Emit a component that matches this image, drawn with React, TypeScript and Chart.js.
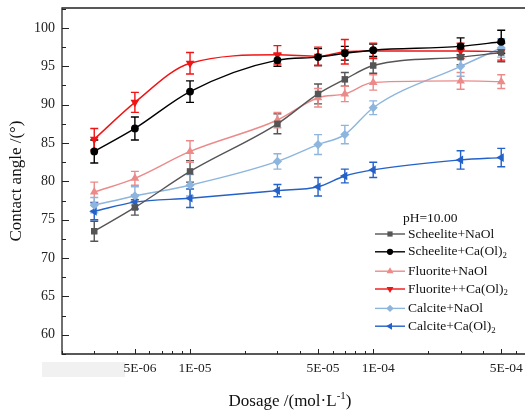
import React, { useEffect, useRef } from 'react';
import { Chart, registerables } from 'chart.js';
import { drawPoint } from 'chart.js/helpers';

Chart.register(...registerables);

// ---- Data ----
const dosage = [3e-6, 5e-6, 1e-5, 3e-5, 5e-5, 7e-5, 1e-4, 3e-4, 5e-4];

const scheeliteNaOl = [73.5, 76.6, 81.3, 87.5, 91.4, 93.3, 95.1, 96.2, 96.8];
const scheeliteNaOlErr = [1.3, 1.0, 1.4, 1.3, 1.3, 0.9, 1.0, 1.0, 1.2];

const scheeliteCa = [83.9, 86.9, 91.7, 95.8, 96.2, 96.7, 97.1, 97.6, 98.2];
const scheeliteCaErr = [1.5, 1.5, 1.4, 0.8, 1.1, 0.9, 0.8, 1.1, 1.5];

const fluoriteNaOl = [78.6, 80.4, 83.9, 88.0, 90.9, 91.4, 92.9, 93.1, 93.0];
const fluoriteNaOlErr = [1.3, 0.9, 1.4, 1.0, 1.2, 1.0, 1.0, 1.1, 0.9];

const fluoriteCa = [85.5, 90.3, 95.4, 96.5, 96.3, 96.9, 97.0, 97.0, 96.9];
const fluoriteCaErr = [1.4, 1.3, 1.4, 1.2, 1.2, 1.6, 1.0, 1.0, 1.1];

const calciteNaOl = [76.9, 78.1, 79.5, 82.6, 84.8, 86.1, 89.6, 95.0, 97.4];
const calciteNaOlErr = [1.0, 1.2, 1.4, 1.0, 1.3, 1.2, 0.9, 1.3, 1.2];

const calciteCa = [76.1, 77.3, 77.8, 78.8, 79.3, 80.7, 81.5, 82.8, 83.1];
const calciteCaErr = [1.1, 0.9, 1.2, 0.8, 1.2, 0.9, 1.0, 1.2, 1.2];

const seriesLabels = [
  'Scheelite+NaOl',
  'Scheelite+Ca(Ol)₂',
  'Fluorite+NaOl',
  'Fluorite++Ca(Ol)₂',
  'Calcite+NaOl',
  'Calcite+Ca(Ol)₂',
];

const xTickValues = [5e-6, 1e-5, 5e-5, 1e-4, 5e-4];
const xTickLabels = ['5E-06', '1E-05', '5E-05', '1E-04', '5E-04'];
const yTickValues = [60, 65, 70, 75, 80, 85, 90, 95, 100];

const legendTitle = 'pH=10.00';
const yTitle = 'Contact angle /(°)';
const xTitleMain = 'Dosage /(mol·L';
const xTitleSup = '-1';
const xTitleEnd = ')';

// ---- Styles ----
const FONT = "'Liberation Serif', 'Times New Roman', serif";
const colors = ['#555555', '#000000', '#ec8a8a', '#f01414', '#8db5dd', '#2461c9'];
const pointStyles = ['rect', 'circle', 'triangle', 'triangle', 'rectRot', 'triangle'];
const rotations = [0, 0, 0, 180, 0, -90];
const radii = [4.6, 3.9, 5, 5, 4.6, 5];

const seriesValues = [scheeliteNaOl, scheeliteCa, fluoriteNaOl, fluoriteCa, calciteNaOl, calciteCa];
const seriesErrors = [scheeliteNaOlErr, scheeliteCaErr, fluoriteNaOlErr, fluoriteCaErr, calciteNaOlErr, calciteCaErr];

function drawRich(ctx: CanvasRenderingContext2D, text: string, x: number, y: number, size: number) {
  const parts = text.split('₂');
  let cx = x;
  parts.forEach((p, i) => {
    ctx.font = `${size}px ${FONT}`;
    ctx.fillText(p, cx, y);
    cx += ctx.measureText(p).width;
    if (i < parts.length - 1) {
      ctx.font = `${size * 0.65}px ${FONT}`;
      ctx.fillText('2', cx, y + 4);
      cx += ctx.measureText('2').width;
    }
  });
}

const maskPlugin = {
  id: 'mask',
  beforeDraw(chart: any) {
    const { ctx } = chart;
    ctx.save();
    ctx.fillStyle = '#f1f1f1';
    ctx.fillRect(42, 362, 83, 15);
    ctx.restore();
  },
};

const errorBarPlugin = {
  id: 'errorBars',
  beforeDatasetsDraw(chart: any) {
    const { ctx, scales } = chart;
    const x = scales.x;
    const y = scales.y;
    ctx.save();
    seriesErrors.forEach((errs, si) => {
      ctx.strokeStyle = colors[si];
      ctx.lineWidth = 1.4;
      errs.forEach((e, i) => {
        const px = x.getPixelForValue(dosage[i]);
        const v = seriesValues[si][i];
        const top = y.getPixelForValue(v + e);
        const bot = y.getPixelForValue(v - e);
        ctx.beginPath();
        ctx.moveTo(px, top);
        ctx.lineTo(px, bot);
        ctx.moveTo(px - 4, top);
        ctx.lineTo(px + 4, top);
        ctx.moveTo(px - 4, bot);
        ctx.lineTo(px + 4, bot);
        ctx.stroke();
      });
    });
    ctx.restore();
  },
};

const framePlugin = {
  id: 'frame',
  afterDraw(chart: any) {
    const { ctx, chartArea: a, scales } = chart;
    const x = scales.x;
    const y = scales.y;
    ctx.save();
    ctx.strokeStyle = '#222';
    ctx.lineWidth = 1.3;
    ctx.beginPath();
    ctx.moveTo(a.left, a.top);
    ctx.lineTo(a.left, a.bottom);
    ctx.lineTo(a.right, a.bottom);
    ctx.lineTo(a.right, a.top);
    ctx.closePath();
    ctx.stroke();

    ctx.lineWidth = 1;
    ctx.beginPath();
    for (let k = 0; k <= 18; k++) {
      const v = 57.5 + k * 2.5;
      if (v > y.max) break;
      const major = Math.abs(v % 5) < 1e-6;
      const py = Math.round(y.getPixelForValue(v)) + 0.5;
      ctx.moveTo(a.left, py);
      ctx.lineTo(a.left + (major ? 7 : 4), py);
    }
    for (let e = -6; e <= -4; e++) {
      for (let m = 1; m <= 9; m++) {
        const v = m * Math.pow(10, e);
        if (v < x.min * 0.999 || v > x.max * 1.001) continue;
        const major = m === 1 || xTickValues.some((t) => Math.abs(t - v) / v < 1e-6);
        const px = Math.round(x.getPixelForValue(v)) + 0.5;
        ctx.moveTo(px, a.bottom);
        ctx.lineTo(px, a.bottom - (major ? 5 : 3));
      }
    }
    ctx.stroke();

    // axis titles
    ctx.fillStyle = '#111';
    ctx.textBaseline = 'alphabetic';
    ctx.font = `17px ${FONT}`;
    const w1 = ctx.measureText(xTitleMain).width;
    ctx.font = `11px ${FONT}`;
    const w2 = ctx.measureText(xTitleSup).width;
    ctx.font = `17px ${FONT}`;
    const w3 = ctx.measureText(xTitleEnd).width;
    let tx = (a.left + 518) / 2 - (w1 + w2 + w3) / 2;
    const ty = 406;
    ctx.textAlign = 'left';
    ctx.fillText(xTitleMain, tx, ty);
    tx += w1;
    ctx.font = `11px ${FONT}`;
    ctx.fillText(xTitleSup, tx, ty - 7);
    tx += w2;
    ctx.font = `17px ${FONT}`;
    ctx.fillText(xTitleEnd, tx, ty);

    ctx.save();
    ctx.translate(21, (a.top + a.bottom) / 2);
    ctx.rotate(-Math.PI / 2);
    ctx.textAlign = 'center';
    ctx.font = `17px ${FONT}`;
    ctx.fillText(yTitle, 0, 0);
    ctx.restore();

    // legend
    ctx.textAlign = 'left';
    ctx.textBaseline = 'middle';
    ctx.fillStyle = '#111';
    ctx.font = `13.5px ${FONT}`;
    ctx.fillText(legendTitle, 403, 218);
    seriesLabels.forEach((lab, i) => {
      const ry = 234 + i * 17.8 + Math.floor(i / 2) * 1.6;
      ctx.strokeStyle = colors[i];
      ctx.fillStyle = colors[i];
      ctx.lineWidth = 1.4;
      ctx.beginPath();
      ctx.moveTo(375, ry);
      ctx.lineTo(405, ry);
      ctx.stroke();
      drawPoint(ctx, { pointStyle: pointStyles[i] as any, rotation: rotations[i], radius: radii[i] * 0.8, borderWidth: 0 } as any, 390, ry);
      ctx.fillStyle = '#111';
      drawRich(ctx, lab, 408, ry, 13.5);
    });
    ctx.restore();
  },
};

export default function App() {
  const ref = useRef<HTMLCanvasElement | null>(null);

  useEffect(() => {
    document.body.style.margin = '0';
    if (!ref.current) return;
    const chart = new Chart(ref.current, {
      type: 'line',
      data: {
        datasets: seriesValues.map((vals, si) => ({
          label: seriesLabels[si],
          data: dosage.map((d, i) => ({ x: d, y: vals[i] })),
          borderColor: colors[si],
          backgroundColor: colors[si],
          borderWidth: 1.4,
          pointStyle: pointStyles[si] as any,
          pointRotation: rotations[si],
          pointRadius: radii[si],
          pointBorderWidth: 0,
          cubicInterpolationMode: 'monotone' as const,
          fill: false,
        })),
      },
      options: {
        responsive: false,
        animation: false,
        devicePixelRatio: 1,
        layout: { padding: { top: 8, right: 6, left: 0, bottom: 0 } },
        plugins: { legend: { display: false }, tooltip: { enabled: false } },
        scales: {
          x: {
            type: 'logarithmic',
            min: 2e-6,
            max: 7e-4,
            grid: { display: false, drawTicks: false },
            border: { display: false },
            afterBuildTicks: (s: any) => {
              s.ticks = xTickValues.map((v) => ({ value: v }));
            },
            afterFit: (s: any) => {
              s.height = 56;
              s.paddingLeft = 0;
              s.paddingRight = 0;
            },
            ticks: {
              autoSkip: false,
              maxRotation: 0,
              padding: 6,
              labelOffset: 5,
              color: '#222',
              font: { family: FONT, size: 13.5 },
              callback: (_v: any, i: number) => xTickLabels[i],
            },
          },
          y: {
            type: 'linear',
            min: 57.5,
            max: 102.6,
            grid: { display: false, drawTicks: false },
            border: { display: false },
            afterBuildTicks: (s: any) => {
              s.ticks = yTickValues.map((v) => ({ value: v }));
            },
            afterFit: (s: any) => {
              s.width = 62;
              s.paddingTop = 0;
              s.paddingBottom = 0;
            },
            ticks: {
              padding: 7,
              color: '#222',
              font: { family: FONT, size: 14 },
              callback: (v: any) => String(v),
            },
          },
        },
      },
      plugins: [maskPlugin, errorBarPlugin, framePlugin],
    });
    return () => chart.destroy();
  }, []);

  return (
    <div style={{ width: 525, height: 410, overflow: 'hidden', position: 'relative', background: '#fff' }}>
      <canvas ref={ref} width={534} height={410} style={{ display: 'block' }} />
    </div>
  );
}
